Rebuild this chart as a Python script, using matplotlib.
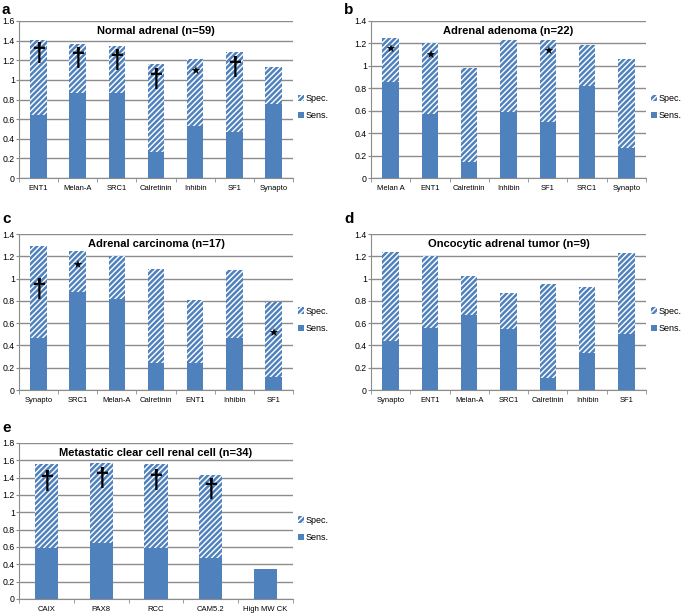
import numpy as np
import matplotlib
matplotlib.use("Agg")
import matplotlib.pyplot as plt
from matplotlib.patches import Patch

plt.rcParams['font.family'] = ['Liberation Sans', 'DejaVu Sans']
plt.rcParams['hatch.linewidth'] = 1.8

BLUE = '#4F81BD'
GRID = '#8c8c8c'

# ---- data ----
a_labels = ['ENT1', 'Melan-A', 'SRC1', 'Calretinin', 'Inhibin', 'SF1', 'Synapto']
a_sens = [0.64, 0.87, 0.87, 0.26, 0.53, 0.47, 0.75]
a_spec = [0.77, 0.50, 0.48, 0.90, 0.68, 0.81, 0.38]
a_marks = ['†', '†', '†', '†', '★', '†', '']
a_mark_y = [1.26, 1.21, 1.19, 1.00, 1.08, 1.12, 0]

b_labels = ['Melan A', 'ENT1', 'Calretinin', 'Inhibin', 'SF1', 'SRC1', 'Synapto']
b_sens = [0.86, 0.57, 0.14, 0.59, 0.50, 0.82, 0.27]
b_spec = [0.39, 0.63, 0.84, 0.64, 0.73, 0.37, 0.79]
b_marks = ['★', '★', '', '', '★', '', '']
b_mark_y = [1.14, 1.09, 0, 0, 1.12, 0, 0]

c_labels = ['Synapto', 'SRC1', 'Melan-A', 'Calretinin', 'ENT1', 'Inhibin', 'SF1']
c_sens = [0.47, 0.88, 0.82, 0.24, 0.24, 0.47, 0.12]
c_spec = [0.82, 0.37, 0.38, 0.85, 0.57, 0.61, 0.67]
c_marks = ['†', '★', '', '', '', '', '★']
c_mark_y = [0.90, 1.11, 0, 0, 0, 0, 0.50]

d_labels = ['Synapto', 'ENT1', 'Melan-A', 'SRC1', 'Calretinin', 'Inhibin', 'SF1']
d_sens = [0.44, 0.56, 0.67, 0.55, 0.11, 0.33, 0.50]
d_spec = [0.80, 0.64, 0.35, 0.32, 0.84, 0.59, 0.73]
d_marks = [''] * 7
d_mark_y = [0] * 7

e_labels = ['CAIX', 'PAX8', 'RCC', 'CAM5.2', 'High MW CK']
e_sens = [0.59, 0.65, 0.59, 0.47, 0.35]
e_spec = [0.97, 0.92, 0.97, 0.96, 0.0]
e_marks = ['†', '†', '†', '†', '']
e_mark_y = [1.35, 1.38, 1.36, 1.26, 0]


def panel(ax, labels, sens, spec, marks, mark_y, title, ymax):
    x = np.arange(len(labels))
    ax.bar(x, sens, width=0.42, color=BLUE, linewidth=0, zorder=3)
    ax.bar(x, spec, width=0.42, bottom=sens, facecolor='white', edgecolor=BLUE,
           hatch='//////', linewidth=0, zorder=3)
    for xi, m, my in zip(x, marks, mark_y):
        if m == '†':
            ax.text(xi, my, m, ha='center', va='center', fontsize=19,
                    family=['Liberation Sans'], fontweight='bold', zorder=4)
        elif m:
            ax.text(xi, my, m, ha='center', va='center', fontsize=8,
                    family=['DejaVu Sans'], zorder=4)
    ax.set_ylim(0, ymax)
    ax.set_xlim(-0.5, len(labels) - 0.5)
    yt = np.arange(0, ymax + 0.01, 0.2)
    ax.set_yticks(yt)
    ax.set_yticklabels([f'{v:g}' for v in np.round(yt, 1)])
    ax.yaxis.grid(True, color=GRID, linewidth=1.0, zorder=0)
    ax.set_xticks(x)
    ax.set_xticklabels(labels)
    ax.set_xticks(np.arange(-0.5, len(labels)), minor=True)
    ax.tick_params(axis='x', which='major', length=0, labelsize=5.5, pad=5)
    ax.tick_params(axis='x', which='minor', length=3, color=GRID)
    ax.tick_params(axis='y', length=2, color=GRID, labelsize=6.3, pad=1)
    for s in ['top', 'right']:
        ax.spines[s].set_visible(False)
    ax.spines['left'].set_color(GRID)
    ax.spines['bottom'].set_color(GRID)
    ax.text(0.5, 0.935, title, transform=ax.transAxes, ha='center', va='center',
            fontsize=8, fontweight='bold')
    handles = [Patch(facecolor='white', edgecolor=BLUE, hatch='//////', linewidth=0),
               Patch(facecolor=BLUE, linewidth=0)]
    ax.legend(handles, ['Spec.', 'Sens.'], loc='center left', bbox_to_anchor=(1.0, 0.45),
              frameon=False, fontsize=6.5, handlelength=0.7, handleheight=0.7,
              handletextpad=0.2, labelspacing=0.9, borderpad=0)


fig = plt.figure(figsize=(6.85, 6.16), dpi=100)
W, H = 685, 616

def add_axes(l, t, r, b):
    return fig.add_axes([l / W, 1 - b / H, (r - l) / W, (b - t) / H])

axa = add_axes(19, 21, 293, 178)
axb = add_axes(371, 21, 646, 178)
axc = add_axes(19, 234, 293, 390)
axd = add_axes(371, 234, 646, 390)
axe = add_axes(19, 443, 293, 599)

panel(axa, a_labels, a_sens, a_spec, a_marks, a_mark_y, 'Normal adrenal (n=59)', 1.6)
panel(axb, b_labels, b_sens, b_spec, b_marks, b_mark_y, 'Adrenal adenoma (n=22)', 1.4)
panel(axc, c_labels, c_sens, c_spec, c_marks, c_mark_y, 'Adrenal carcinoma (n=17)', 1.4)
panel(axd, d_labels, d_sens, d_spec, d_marks, d_mark_y, 'Oncocytic adrenal tumor (n=9)', 1.4)
panel(axe, e_labels, e_sens, e_spec, e_marks, e_mark_y, 'Metastatic clear cell renal cell (n=34)', 1.8)

for letter, px, py in [('a', 2, 10), ('b', 344, 10), ('c', 2, 219), ('d', 344, 219), ('e', 2, 428)]:
    fig.text(px / W, 1 - py / H, letter, fontsize=11, fontweight='bold', va='center', ha='left')

fig.savefig('out.png', dpi=100)
